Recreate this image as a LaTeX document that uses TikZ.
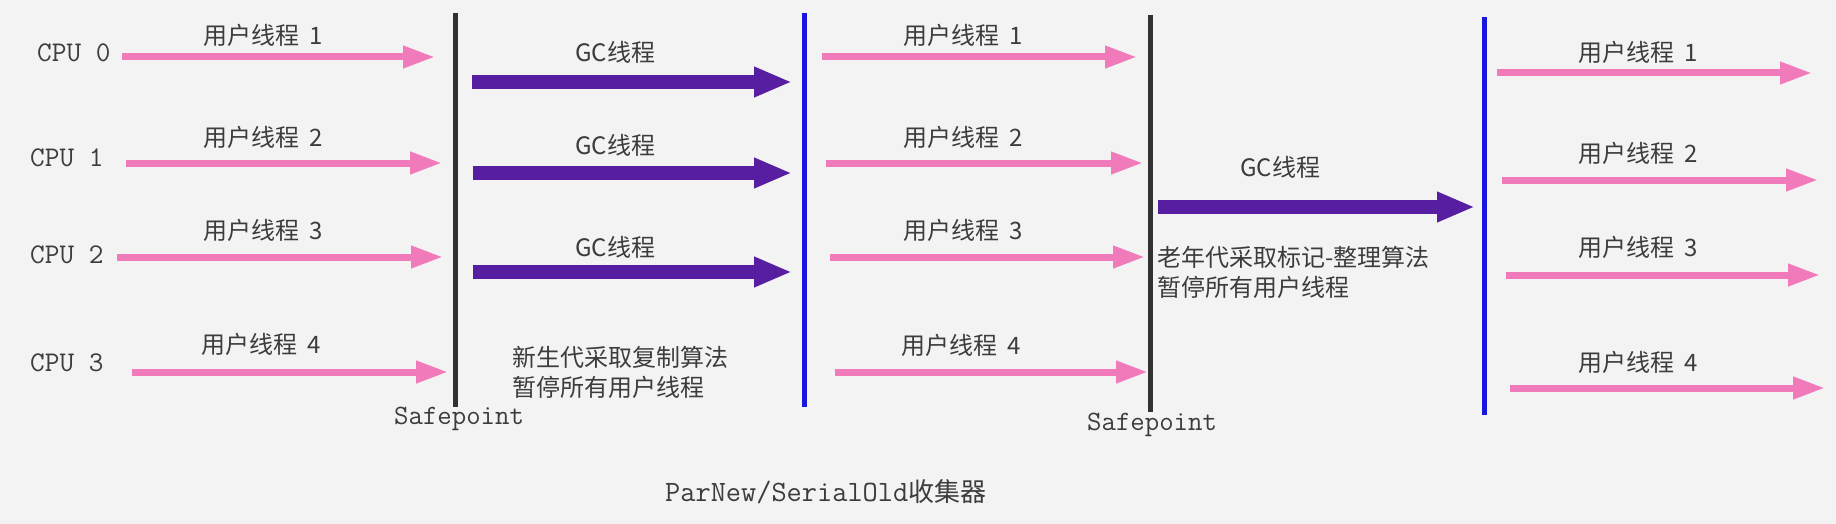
\documentclass[tikz,border=0pt]{standalone}
\usepackage{fontspec}
\setmainfont{Noto Sans CJK SC}
\usetikzlibrary{arrows.meta}
\definecolor{bgc}{RGB}{243,243,243}
\definecolor{pinkc}{RGB}{240,122,186}
\definecolor{purp}{RGB}{88,30,162}
\definecolor{bluec}{RGB}{22,22,222}
\definecolor{darkl}{RGB}{50,50,50}
\definecolor{txt}{RGB}{60,60,60}
\newcommand{\uthread}[1]{用户线程\hspace{0.45em}#1}
\begin{document}
\begin{tikzpicture}[x=1pt,y=-1pt,
  lbl/.style={font=\fontsize{24}{30}\selectfont, text=txt, inner sep=0pt, anchor=west, align=left},
  cpu/.style={font=\ttfamily\fontsize{28.5}{30}\selectfont, text=txt, inner sep=0pt, anchor=west},
  safe/.style={font=\ttfamily\fontsize{28}{30}\selectfont, text=txt, inner sep=0pt, anchor=west},
  uarrow/.style={draw=pinkc, line width=7pt, -{Triangle[length=32pt,width=21pt]}},
  gcarrow/.style={draw=purp, line width=14pt, -{Triangle[length=38pt,width=28pt]}},
  safeline/.style={draw=darkl, line width=5pt},
  bline/.style={draw=bluec, line width=5pt},
]
\fill[bgc] (0,0) rectangle (1836,524);
\useasboundingbox (0,0) rectangle (1836,524);

% vertical lines
\coordinate (s1t) at (455,13);  \coordinate (s1b) at (455,407);
\coordinate (b1t) at (804,13);  \coordinate (b1b) at (804,407);
\coordinate (s2t) at (1150,15); \coordinate (s2b) at (1150,412);
\coordinate (b2t) at (1484,17); \coordinate (b2b) at (1484,415);
\draw[safeline] (s1t) -- (s1b);
\draw[bline] (b1t) -- (b1b);
\draw[safeline] (s2t) -- (s2b);
\draw[bline] (b2t) -- (b2b);

% CPU labels
\node[cpu] (cpu0) at (37,53) {CPU 0};
\node[cpu] (cpu1) at (30,158) {CPU 1};
\node[cpu] (cpu2) at (30,255) {CPU 2};
\node[cpu] (cpu3) at (30,363) {CPU 3};

% first column of user threads
\coordinate (a1s) at (122,57);  \coordinate (a1e) at (435,57);
\coordinate (a2s) at (126,163); \coordinate (a2e) at (442,163);
\coordinate (a3s) at (117,257); \coordinate (a3e) at (443,257);
\coordinate (a4s) at (132,372); \coordinate (a4e) at (448,372);
\draw[uarrow] (a1s) -- (a1e);
\draw[uarrow] (a2s) -- (a2e);
\draw[uarrow] (a3s) -- (a3e);
\draw[uarrow] (a4s) -- (a4e);
\node[lbl] (la1) at (203,35) {\uthread{1}};
\node[lbl] (la2) at (203,137) {\uthread{2}};
\node[lbl] (la3) at (203,230) {\uthread{3}};
\node[lbl] (la4) at (201,344) {\uthread{4}};

% young GC threads
\coordinate (g1s) at (472,82);  \coordinate (g1e) at (792,82);
\coordinate (g2s) at (473,173); \coordinate (g2e) at (792,173);
\coordinate (g3s) at (473,272); \coordinate (g3e) at (792,272);
\draw[gcarrow] (g1s) -- (g1e);
\draw[gcarrow] (g2s) -- (g2e);
\draw[gcarrow] (g3s) -- (g3e);
\node[lbl] (lg1) at (575,52) {GC线程};
\node[lbl] (lg2) at (575,145) {GC线程};
\node[lbl] (lg3) at (575,247) {GC线程};
\node[lbl] (young) at (512,372) {新生代采取复制算法\\暂停所有用户线程};
\node[safe] (sp1) at (394,419) {Safepoint};

% second column of user threads
\coordinate (b1s) at (822,57);  \coordinate (b1e) at (1137,57);
\coordinate (b2s) at (826,163); \coordinate (b2e) at (1143,163);
\coordinate (b3s) at (830,257); \coordinate (b3e) at (1145,257);
\coordinate (b4s) at (835,372); \coordinate (b4e) at (1148,372);
\draw[uarrow] (b1s) -- (b1e);
\draw[uarrow] (b2s) -- (b2e);
\draw[uarrow] (b3s) -- (b3e);
\draw[uarrow] (b4s) -- (b4e);
\node[lbl] (lb1) at (903,35) {\uthread{1}};
\node[lbl] (lb2) at (903,137) {\uthread{2}};
\node[lbl] (lb3) at (903,230) {\uthread{3}};
\node[lbl] (lb4) at (901,345) {\uthread{4}};

% old GC thread
\coordinate (gos) at (1158,207); \coordinate (goe) at (1475,207);
\draw[gcarrow] (gos) -- (goe);
\node[lbl] (lgo) at (1240,167) {GC线程};
\node[lbl] (old) at (1157,272) {老年代采取标记-整理算法\\暂停所有用户线程};
\node[safe] (sp2) at (1087,425) {Safepoint};

% third column of user threads
\coordinate (c1s) at (1497,73);  \coordinate (c1e) at (1812,73);
\coordinate (c2s) at (1502,180); \coordinate (c2e) at (1818,180);
\coordinate (c3s) at (1506,275); \coordinate (c3e) at (1820,275);
\coordinate (c4s) at (1510,388); \coordinate (c4e) at (1825,388);
\draw[uarrow] (c1s) -- (c1e);
\draw[uarrow] (c2s) -- (c2e);
\draw[uarrow] (c3s) -- (c3e);
\draw[uarrow] (c4s) -- (c4e);
\node[lbl] (lc1) at (1578,52) {\uthread{1}};
\node[lbl] (lc2) at (1578,153) {\uthread{2}};
\node[lbl] (lc3) at (1578,247) {\uthread{3}};
\node[lbl] (lc4) at (1578,362) {\uthread{4}};

% caption
\node[inner sep=0pt, anchor=west, text=txt] (cap) at (665,492)
  {{\ttfamily\fontsize{29.5}{30}\selectfont ParNew/SerialOld}{\fontsize{26}{30}\selectfont 收集器}};
\end{tikzpicture}
\end{document}
